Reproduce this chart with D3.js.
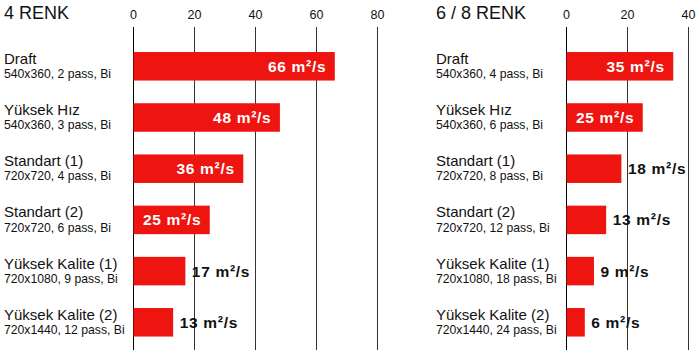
<!DOCTYPE html>
<html>
<head>
<meta charset="utf-8">
<script src="https://cdn.jsdelivr.net/npm/d3@7"></script>
<style>
  html, body { margin: 0; padding: 0; background: #fff; }
  svg { display: block; font-family: "Liberation Sans", Arial, sans-serif; }
</style>
</head>
<body>
<svg id="chart" width="700" height="356"></svg>
<script>
// ---- data ----
const categories = ["Draft", "Yüksek Hız", "Standart (1)", "Standart (2)", "Yüksek Kalite (1)", "Yüksek Kalite (2)"];
const details4 = ["540x360, 2 pass, Bi", "540x360, 3 pass, Bi", "720x720, 4 pass, Bi", "720x720, 6 pass, Bi", "720x1080, 9 pass, Bi", "720x1440, 12 pass, Bi"];
const values4 = [66, 48, 36, 25, 17, 13];
const details68 = ["540x360, 4 pass, Bi", "540x360, 6 pass, Bi", "720x720, 8 pass, Bi", "720x720, 12 pass, Bi", "720x1080, 18 pass, Bi", "720x1440, 24 pass, Bi"];
const values68 = [35, 25, 18, 13, 9, 6];
const ticks4 = [0, 20, 40, 60, 80];
const ticks68 = [0, 20, 40];
const titles = ["4 RENK", "6 / 8 RENK"];
const unit = " m²/s";

const svg = d3.select("#chart");
const RED = "#ee1410";

const y = d3.scaleBand()
  .domain(categories)
  .range([41.8, 346.8])
  .paddingInner(0.443)
  .paddingOuter(0.2);

function panel(opts) {
  const { title, details, values, ticks, labelX, x } = opts;
  const g = svg.append("g");

  g.append("text")
    .attr("x", labelX).attr("y", 18.5)
    .attr("font-size", 18)
    .attr("fill", "#111")
    .text(title);

  // axis ticks on top
  const axis = d3.axisTop(x).tickValues(ticks).tickSize(0).tickPadding(0);
  const ag = g.append("g").attr("transform", "translate(0,19)").call(axis);
  ag.select(".domain").remove();
  ag.selectAll("text")
    .attr("font-size", 12.5)
    .attr("font-family", "Liberation Sans, Arial, sans-serif")
    .attr("fill", "#111")
    .attr("dy", 0);

  // gridlines
  g.selectAll("line.grid").data(ticks).join("line")
    .attr("class", "grid")
    .attr("x1", d => Math.round(x(d)) + 0.5)
    .attr("x2", d => Math.round(x(d)) + 0.5)
    .attr("y1", 27).attr("y2", 350)
    .attr("stroke", d => d === 0 ? "#000" : "#333")
    .attr("stroke-width", 1);

  // bars
  g.selectAll("rect.bar").data(values).join("rect")
    .attr("class", "bar")
    .attr("x", x(0) + 0.5)
    .attr("y", (d, i) => y(categories[i]))
    .attr("width", d => x(d) - x(0))
    .attr("height", y.bandwidth())
    .attr("fill", RED);

  // category labels
  g.selectAll("text.cat").data(categories).join("text")
    .attr("class", "cat")
    .attr("x", labelX)
    .attr("y", d => y(d) + 11.8)
    .attr("font-size", 15)
    .attr("fill", "#111")
    .text(d => d);

  g.selectAll("text.det").data(details).join("text")
    .attr("class", "det")
    .attr("x", labelX)
    .attr("y", (d, i) => y(categories[i]) + 26)
    .attr("font-size", 12.2)
    .attr("fill", "#111")
    .text(d => d);

  // value labels
  const vl = g.selectAll("text.val").data(values).join("text")
    .attr("class", "val")
    .attr("font-size", 15.5)
    .attr("font-weight", "bold")
    .attr("letter-spacing", 0.7)
    .attr("y", (d, i) => y(categories[i]) + y.bandwidth() / 2 + 5.5)
    .text(d => d + unit);

  vl.each(function (d) {
    const t = d3.select(this);
    const w = this.getComputedTextLength();
    const barW = x(d) - x(0);
    if (w + 8 < barW) {
      t.attr("x", x(d) - 8).attr("text-anchor", "end").attr("fill", "#fff");
    } else {
      t.attr("x", x(d) + 7).attr("text-anchor", "start").attr("fill", "#111");
    }
  });
}

panel({
  title: titles[0], details: details4, values: values4, ticks: ticks4, labelX: 4,
  x: d3.scaleLinear().domain([0, 80]).range([133, 377])
});
panel({
  title: titles[1], details: details68, values: values68, ticks: ticks68, labelX: 436,
  x: d3.scaleLinear().domain([0, 40]).range([566, 688])
});
</script>
</body>
</html>
